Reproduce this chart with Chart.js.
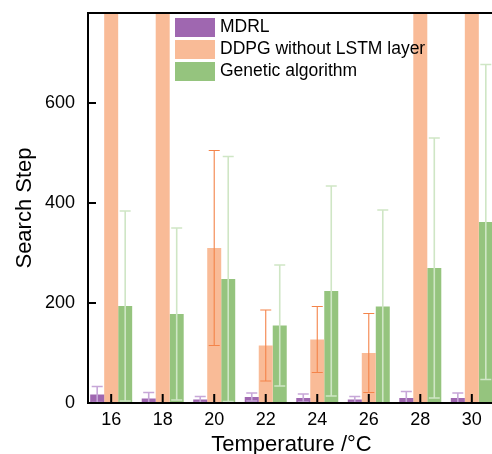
<!DOCTYPE html>
<html><head><meta charset="utf-8">
<script src="https://cdn.jsdelivr.net/npm/chart.js@4.4.0/dist/chart.umd.min.js"></script>
<style>html,body{margin:0;padding:0;overflow:hidden;background:#fff;width:492px;height:454px}</style>
</head><body>
<canvas id="c" width="500" height="454" style="display:block;width:500px;height:454px"></canvas>
<script>
const temperatures = [16, 18, 20, 22, 24, 26, 28, 30];
const mdrlMean = [17, 9, 7, 12, 10, 7, 10, 10];
const mdrlErr  = [16, 12, 6, 8, 8, 6, 13, 10];
const ddpgMean = [1000, 1000, 310, 115, 127, 100, 1000, 1000];
const ddpgErr  = [200, 200, 195, 71, 66, 79, 200, 200];
const gaMean   = [194, 178, 248, 155, 224, 193, 270, 362];
const gaErr    = [190, 172, 245, 121, 210, 193, 260, 315];
const yTicks = [0, 200, 400, 600];
const seriesNames = ['MDRL', 'DDPG without LSTM layer', 'Genetic algorithm'];

const FONT = "'Liberation Sans', Arial, Helvetica, sans-serif";
Chart.defaults.font.family = FONT;
Chart.defaults.color = '#000';

function pts(means) { return temperatures.map((t, i) => ({ x: t, y: means[i] })); }

const common = { barPercentage: 1, categoryPercentage: 0.815, clip: 0, borderWidth: 0 };
const datasets = [
  Object.assign({ label: seriesNames[0], data: pts(mdrlMean), errors: mdrlErr, backgroundColor: '#9f67b0', errColor: '#c7a7d8', errWidth: 1.6, capW: 11 }, common),
  Object.assign({ label: seriesNames[1], data: pts(ddpgMean), errors: ddpgErr, backgroundColor: '#f9bb97', errColor: '#f4844a', errWidth: 1.1, capW: 11 }, common),
  Object.assign({ label: seriesNames[2], data: pts(gaMean), errors: gaErr, backgroundColor: '#95c47e', errColor: '#cfe6c5', errWidth: 1.6, capW: 11 }, common)
];

const errorBars = {
  id: 'errorBars',
  afterDatasetsDraw(chart) {
    const { ctx, chartArea: a, scales: { y } } = chart;
    ctx.save();
    ctx.beginPath(); ctx.rect(a.left, a.top, a.right - a.left, a.bottom - a.top); ctx.clip();
    chart.data.datasets.forEach((ds, i) => {
      const meta = chart.getDatasetMeta(i);
      meta.data.forEach((bar, j) => {
        const m = ds.data[j].y, e = ds.errors[j];
        const yt = y.getPixelForValue(m + e), yb = y.getPixelForValue(m - e);
        ctx.strokeStyle = ds.errColor; ctx.lineWidth = ds.errWidth;
        ctx.beginPath();
        ctx.moveTo(bar.x, yt); ctx.lineTo(bar.x, yb);
        ctx.moveTo(bar.x - ds.capW / 2, yt); ctx.lineTo(bar.x + ds.capW / 2, yt);
        ctx.moveTo(bar.x - ds.capW / 2, yb); ctx.lineTo(bar.x + ds.capW / 2, yb);
        ctx.stroke();
      });
    });
    ctx.restore();
  }
};

const frame = {
  id: 'frame',
  afterDraw(chart) {
    const { ctx, chartArea: a, scales: { x, y } } = chart;
    ctx.save();
    ctx.strokeStyle = '#000'; ctx.lineWidth = 2;
    ctx.beginPath();
    ctx.moveTo(a.left, a.top); ctx.lineTo(a.right, a.top);
    ctx.moveTo(a.left, a.top - 1); ctx.lineTo(a.left, a.bottom + 1);
    ctx.moveTo(a.left - 1, a.bottom); ctx.lineTo(a.right, a.bottom);
    ctx.moveTo(a.right, a.top); ctx.lineTo(a.right, a.bottom);
    temperatures.forEach(t => { const px = x.getPixelForValue(t); ctx.moveTo(px, a.bottom); ctx.lineTo(px, a.bottom - 9); });
    yTicks.forEach(v => { if (v === 0) return; const py = y.getPixelForValue(v); ctx.moveTo(a.left, py); ctx.lineTo(a.left + 8, py); });
    ctx.stroke();
    // legend
    ctx.font = '17.5px ' + FONT;
    ctx.textBaseline = 'middle'; ctx.textAlign = 'left'; ctx.fillStyle = '#000';
    chart.data.datasets.forEach((ds, i) => {
      const top = 18 + i * 22;
      ctx.fillStyle = ds.backgroundColor;
      ctx.fillRect(175, top, 40, 19);
      ctx.fillStyle = '#000';
      ctx.fillText(ds.label, 220, top + 9.5);
    });
    ctx.restore();
  }
};

new Chart(document.getElementById('c'), {
  type: 'bar',
  data: { datasets },
  options: {
    responsive: false, animation: false,
    layout: { padding: { top: 13, right: 5, left: 0, bottom: 0 } },
    plugins: { legend: { display: false }, tooltip: { enabled: false } },
    scales: {
      x: {
        type: 'linear', min: 15.1, max: 30.9, offset: false,
        grid: { display: false, drawTicks: false }, border: { display: false },
        afterBuildTicks: s => { s.ticks = temperatures.map(v => ({ value: v })); },
        ticks: { font: { size: 18 }, padding: 6, maxRotation: 0, autoSkip: false, callback: v => String(v) },
        title: { display: true, text: 'Temperature /°C', font: { size: 22 }, padding: { top: 0, bottom: -4 } },
        afterFit: s => { s.height = 51; s.paddingLeft = 0; s.paddingRight = 0; }
      },
      y: {
        min: 0, max: 780,
        grid: { display: false, drawTicks: false }, border: { display: false },
        afterBuildTicks: s => { s.ticks = yTicks.map(v => ({ value: v })); },
        ticks: { font: { size: 18 }, padding: 13, callback: v => String(v) },
        title: { display: true, text: 'Search Step', font: { size: 22 }, padding: { top: 12, bottom: 0 } },
        afterFit: s => { s.width = 88; s.paddingTop = 0; s.paddingBottom = 0; }
      }
    }
  },
  plugins: [errorBars, frame]
});
</script>
</body></html>
